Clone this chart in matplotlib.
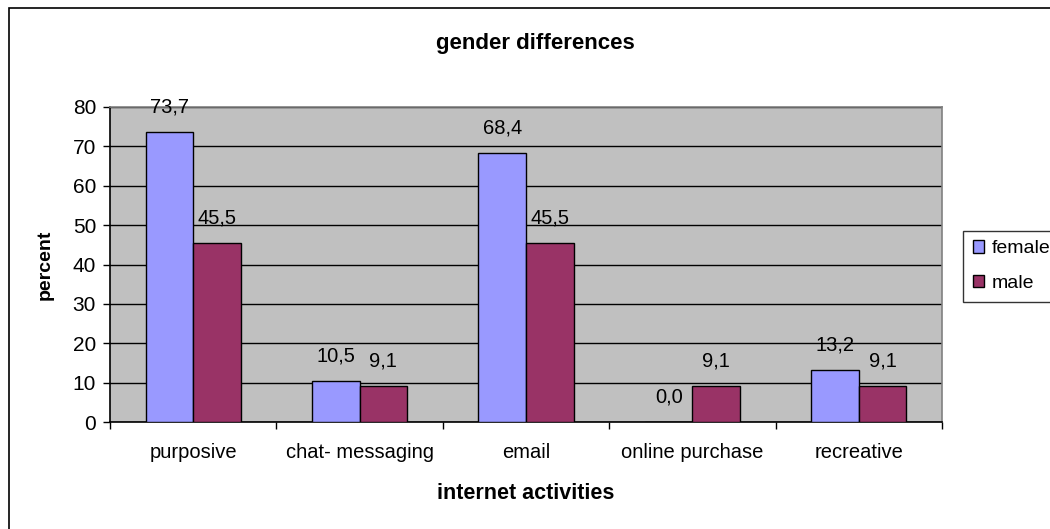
import matplotlib
matplotlib.use("Agg")
import matplotlib.pyplot as plt
from matplotlib.patches import Rectangle
import numpy as np

categories = ["purposive", "chat- messaging", "email", "online purchase", "recreative"]
female = [73.7, 10.5, 68.4, 0.0, 13.2]
male = [45.5, 9.1, 45.5, 9.1, 9.1]
series_names = ["female", "male"]
colors = ["#9999FF", "#993366"]
y_ticks = [0, 10, 20, 30, 40, 50, 60, 70, 80]

plt.rcParams["font.family"] = ["Liberation Sans", "DejaVu Sans"]

fig = plt.figure(figsize=(10.5, 5.29), dpi=100)
fig.patches.append(Rectangle((9 / 1050, -0.1), 1.2, 1 - 8 / 529 + 0.1,
                             transform=fig.transFigure, fill=False,
                             edgecolor="#000000", linewidth=1.2, zorder=0))

ax = fig.add_axes([110 / 1050, (529 - 422) / 529, 832 / 1050, 315 / 529])
ax.set_facecolor("#C0C0C0")

x = np.arange(len(categories))
bw = 1 / 3.5
for vals, off, col, name in [(female, -bw / 2, colors[0], series_names[0]),
                             (male, bw / 2, colors[1], series_names[1])]:
    ax.bar(x + off, vals, width=bw, color=col, edgecolor="black",
           linewidth=1.0, label=name, zorder=3)
    for xi, v in zip(x + off, vals):
        ax.annotate(f"{v:.1f}".replace(".", ","), (xi, v), xytext=(0, 11),
                    textcoords="offset points", ha="center", va="bottom",
                    fontsize=14.5)

ax.set_xlim(-0.5, len(categories) - 0.5)
ax.set_ylim(0, 80)
ax.set_yticks(y_ticks)
ax.yaxis.grid(True, color="black", linewidth=1.0, zorder=1)
ax.set_axisbelow(True)

ax.set_xticks(np.arange(-0.5, len(categories)), labels=[""] * (len(categories) + 1))
ax.set_xticks(x, labels=categories, minor=True)
ax.tick_params(axis="x", which="minor", length=0, pad=15, labelsize=14.5)
ax.tick_params(axis="x", which="major", length=5, direction="out", width=1)
ax.tick_params(axis="y", length=5, direction="out", width=1, labelsize=15, pad=5)

for side in ["top", "right"]:
    ax.spines[side].set_color("#808080")
    ax.spines[side].set_linewidth(1.2)
for side in ["left", "bottom"]:
    ax.spines[side].set_color("black")
    ax.spines[side].set_linewidth(1.2)

ax.set_xlabel("internet activities", fontsize=15.5, fontweight="bold", labelpad=15)
ax.set_ylabel("percent", fontsize=14, fontweight="bold", labelpad=14)
fig.text(535 / 1050, 1 - 43 / 529, "gender differences", ha="center", va="center",
         fontsize=16, fontweight="bold")

leg = ax.legend(loc="center left", bbox_to_anchor=(963 / 1050, 263 / 529),
                bbox_transform=fig.transFigure, frameon=True, fancybox=False,
                edgecolor="black", fontsize=14, handlelength=0.6, handleheight=0.6,
                handletextpad=0.4, borderpad=0.5, labelspacing=0.9,
                borderaxespad=0)
leg.get_frame().set_linewidth(1.0)

fig.savefig("out.png", dpi=100)
